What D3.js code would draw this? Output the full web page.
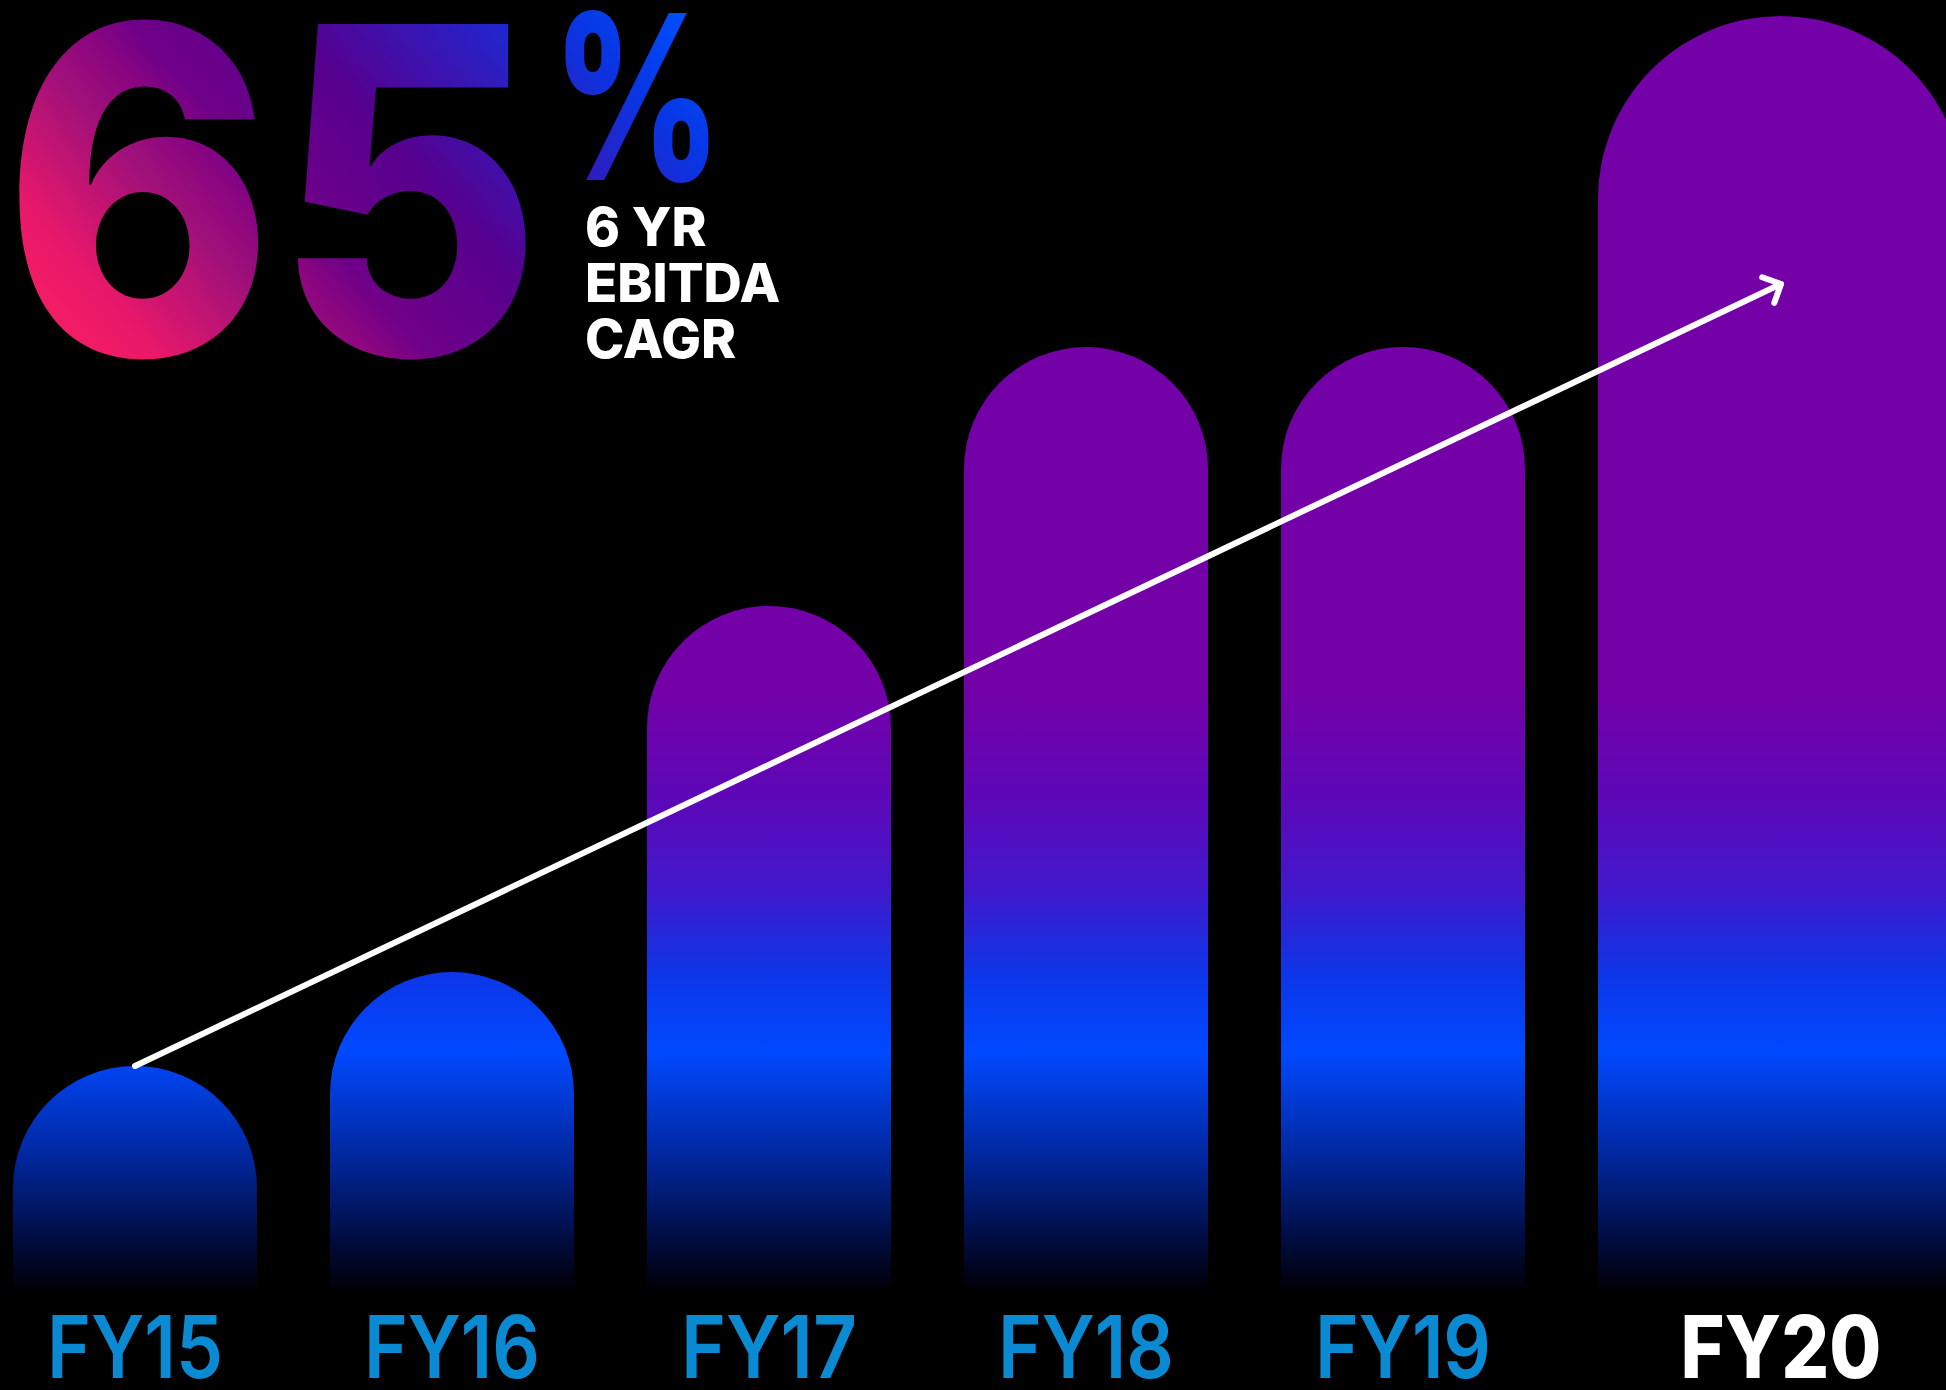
<!DOCTYPE html>
<html>
<head>
<meta charset="utf-8">
<script src="https://cdn.jsdelivr.net/npm/d3@7"></script>
<style>
  html, body { margin: 0; padding: 0; background: #000; }
  svg { display: block; }
</style>
</head>
<body>
<svg id="chart" width="1946" height="1390"></svg>
<script>
// Fiscal years and EBITDA (indexed units) for each bar
const years = ["FY15", "FY16", "FY17", "FY18", "FY19", "FY20"];
const ebitda = [22.3, 31.7, 68.3, 94.2, 94.2, 127.3];
const highlightYear = "FY20";
// End point of the growth arrow (same units as ebitda)
const trendEnd = 100.5;
// Headline figures
const headline = "65";
const headlineUnit = "%";
const caption = ["6 YR", "EBITDA", "CAGR"];

const W = 1946, H = 1390;
const svg = d3.select("#chart");
const defs = svg.append("defs");

svg.append("rect").attr("width", W).attr("height", H).attr("fill", "#000");

const baseline = 1289;
const x = d3.scaleBand()
  .domain(years)
  .range([13, 1842])
  .paddingInner(0.2303)
  .paddingOuter(0);
const y = d3.scaleLinear().domain([0, 130]).range([baseline, baseline - 1300]);

const data = years.map((yr, i) => ({ year: yr, value: ebitda[i], wide: yr === highlightYear }));
const barWidth = d => d.wide ? x.bandwidth() * 1.5 : x.bandwidth();
const barCenter = d => x(d.year) + barWidth(d) / 2;

// Shared vertical gradient for all bars (screen space)
const barGrad = defs.append("linearGradient")
  .attr("id", "barGrad")
  .attr("gradientUnits", "userSpaceOnUse")
  .attr("x1", 0).attr("y1", 0).attr("x2", 0).attr("y2", baseline);
[
  [0, "#7400a8"],
  [690, "#7400a8"],
  [800, "#5c08b8"],
  [890, "#4118cc"],
  [975, "#0c36e8"],
  [1052, "#0049ff"],
  [1160, "#00269a"],
  [1240, "#000c40"],
  [1289, "#000006"]
].forEach(([pos, c]) => barGrad.append("stop").attr("offset", pos / baseline).attr("stop-color", c));

// Bars with semicircular tops
function barPath(d) {
  const w = barWidth(d), r = w / 2, x0 = x(d.year), yt = y(d.value);
  return `M${x0},${baseline} V${yt + r} A${r},${r} 0 0 1 ${x0 + w},${yt + r} V${baseline} Z`;
}
svg.append("g").selectAll("path")
  .data(data)
  .join("path")
  .attr("d", barPath)
  .attr("fill", "url(#barGrad)");

// Year labels
svg.append("g").selectAll("text")
  .data(data)
  .join("text")
  .attr("x", barCenter)
  .attr("y", 1378)
  .attr("text-anchor", "middle")
  .attr("font-family", "Inter, 'Noto Sans', sans-serif")
  .attr("font-size", 86)
  .attr("font-weight", d => d.wide ? 800 : 600)
  .attr("fill", d => d.wide ? "#ffffff" : "#0a8ad2")
  .attr("textLength", d => d.wide ? 201 : 176)
  .attr("lengthAdjust", "spacingAndGlyphs")
  .text(d => d.year);

// Growth arrow from first bar to above the last bar
const first = data[0], last = data[data.length - 1];
const p0 = [barCenter(first), y(first.value)];
const p1 = [barCenter(last), y(trendEnd)];
const ang = Math.atan2(p1[1] - p0[1], p1[0] - p0[0]);
const armLen = 20, armAng = Math.PI / 4;
const back = ang + Math.PI;
const a1 = [p1[0] + armLen * Math.cos(back + armAng), p1[1] + armLen * Math.sin(back + armAng)];
const a2 = [p1[0] + armLen * Math.cos(back - armAng), p1[1] + armLen * Math.sin(back - armAng)];
const arrow = svg.append("g")
  .attr("fill", "none")
  .attr("stroke", "#ffffff")
  .attr("stroke-width", 6)
  .attr("stroke-linecap", "round")
  .attr("stroke-linejoin", "round");
arrow.append("path").attr("d", d3.line()([p0, p1]));
arrow.append("path").attr("d", d3.line()([a1, p1, a2]));

// Headline gradient (pink bottom-left to blue top-right)
const headGrad = defs.append("linearGradient")
  .attr("id", "headGrad")
  .attr("gradientUnits", "userSpaceOnUse")
  .attr("x1", 15).attr("y1", 360).attr("x2", 565).attr("y2", -135);
[
  [0, "#ff2060"],
  [0.15, "#e8186a"],
  [0.3, "#a0107a"],
  [0.37, "#8a0580"],
  [0.42, "#700088"],
  [0.58, "#56008f"],
  [0.75, "#2c1ec2"],
  [0.87, "#0836e4"],
  [1, "#0050ff"]
].forEach(([o, c]) => headGrad.append("stop").attr("offset", o).attr("stop-color", c));

svg.append("text")
  .attr("x", 3)
  .attr("y", 355)
  .attr("font-family", "Inter, 'Noto Sans', sans-serif")
  .attr("font-size", 455)
  .attr("font-weight", 800)
  .attr("textLength", 539)
  .attr("lengthAdjust", "spacingAndGlyphs")
  .attr("fill", "url(#headGrad)")
  .text(headline);

svg.append("text")
  .attr("x", 552)
  .attr("y", 180)
  .attr("font-family", "Inter, 'Noto Sans', sans-serif")
  .attr("font-size", 230)
  .attr("font-weight", 800)
  .attr("textLength", 170)
  .attr("lengthAdjust", "spacingAndGlyphs")
  .attr("fill", "url(#headGrad)")
  .text(headlineUnit);

svg.append("g").selectAll("text")
  .data(caption)
  .join("text")
  .attr("x", 585)
  .attr("y", (d, i) => 246 + i * 56)
  .attr("font-family", "Inter, 'Noto Sans', sans-serif")
  .attr("font-size", 53)
  .attr("font-weight", 800)
  .attr("fill", "#ffffff")
  .text(d => d);
</script>
</body>
</html>
